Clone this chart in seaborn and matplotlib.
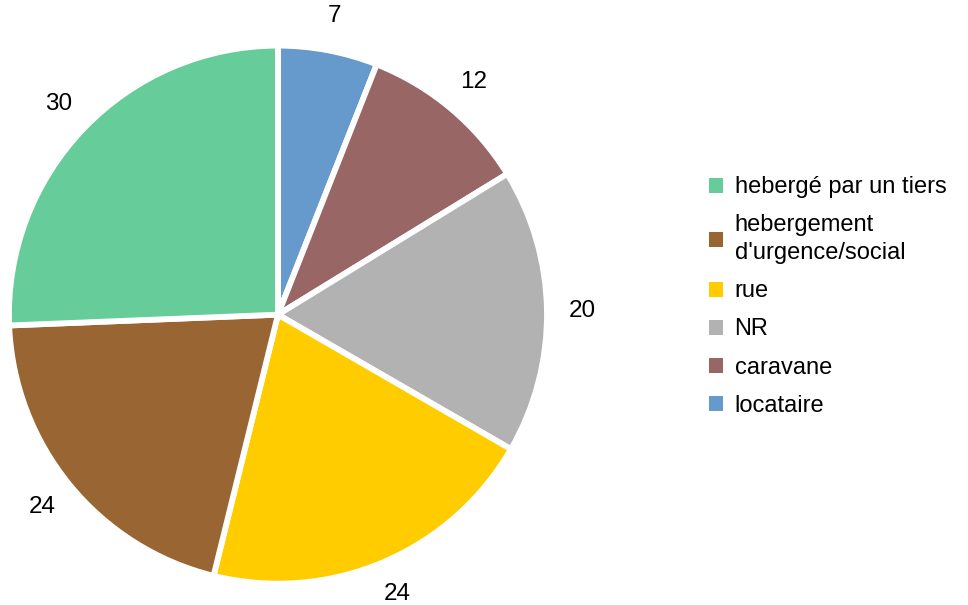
import matplotlib
matplotlib.use("Agg")
import matplotlib.pyplot as plt
import seaborn as sns
from matplotlib.patches import Patch

sns.set_theme(style="white")
plt.rcParams['font.family'] = ['Liberation Sans', 'DejaVu Sans']
plt.rcParams['text.color'] = 'black'

# data, clockwise from 12 o'clock
categories = ['locataire', 'caravane', 'NR', 'rue',
              "hebergement\nd'urgence/social", 'hebergé par un tiers']
values = [7, 12, 20, 24, 24, 30]
colors = ['#6699CC', '#996666', '#B2B2B2', '#FFCC00', '#996633', '#66CC99']

fig = plt.figure(figsize=(9.68, 6.05), dpi=100)
ax = fig.add_axes([0.0134, 0.0397, 0.5475, 0.876])

wedges, texts = ax.pie(values, colors=colors, startangle=90, counterclock=False,
                       labels=[str(v) for v in values], labeldistance=1.13,
                       wedgeprops=dict(edgecolor='white', linewidth=4.2),
                       textprops=dict(fontsize=17.5, color='black'))
for t in texts:
    t.set_horizontalalignment('center')
    t.set_verticalalignment('center')
ax.set_xlim(-0.985, 0.985)
ax.set_ylim(-0.99, 0.98)
ax.set_aspect('equal')
ax.axis('off')

handles = [Patch(facecolor=c, edgecolor='none') for c in colors][::-1]
leg = fig.legend(handles, categories[::-1], loc='center left', bbox_to_anchor=(0.71, 0.51),
                 frameon=False, fontsize=17, handlelength=0.6, handleheight=0.6,
                 handletextpad=0.5, labelspacing=0.68)
for t in leg.get_texts():
    t.set_color('black')
    t.set_multialignment('left')
    t.set_linespacing(1.35)

fig.savefig('out.png', dpi=100)
